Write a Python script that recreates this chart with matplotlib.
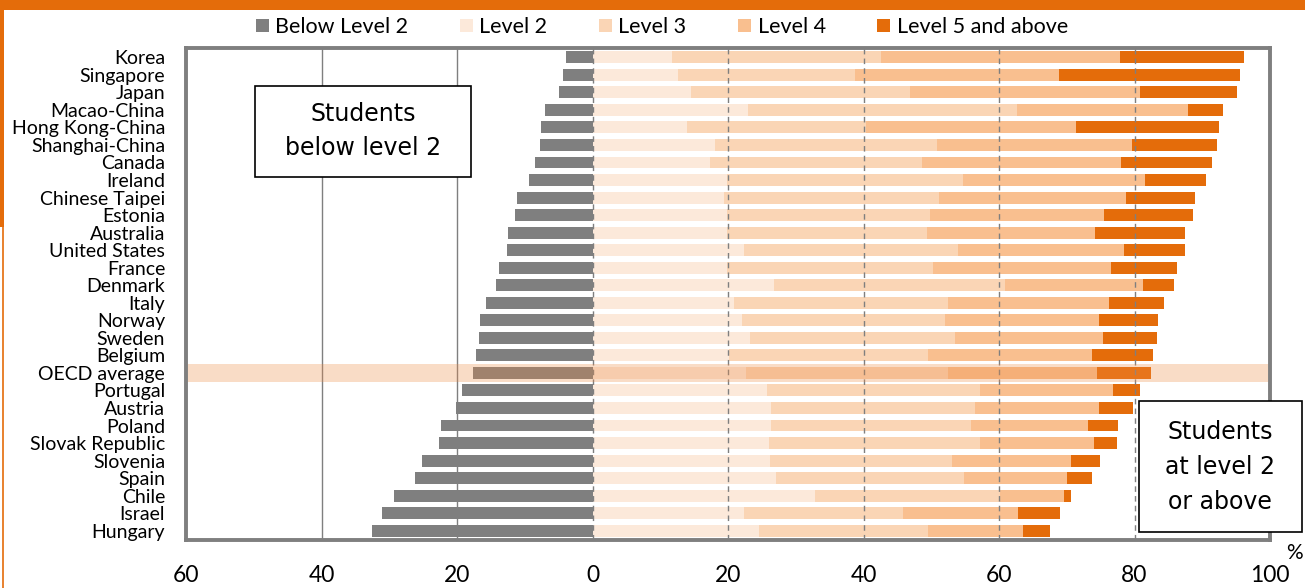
import numpy as np
import matplotlib.pyplot as plt
from matplotlib.patches import Patch, Rectangle
from matplotlib.lines import Line2D

plt.rcParams['font.family'] = ['Lato', 'DejaVu Sans']

# share of students (%) by proficiency level, mathematics
countries = ["Korea", "Singapore", "Japan", "Macao-China", "Hong Kong-China",
             "Shanghai-China", "Canada", "Ireland", "Chinese Taipei", "Estonia",
             "Australia", "United States", "France", "Denmark", "Italy", "Norway",
             "Sweden", "Belgium", "OECD average", "Portugal", "Austria", "Poland",
             "Slovak Republic", "Slovenia", "Spain", "Chile", "Israel", "Hungary"]
below_2 = [3.9, 4.4, 4.9, 7.0, 7.6, 7.8, 8.5, 9.4, 11.1, 11.4, 12.5, 12.6, 13.8, 14.2,
           15.7, 16.6, 16.7, 17.2, 17.6, 19.2, 20.2, 22.4, 22.6, 25.1, 26.2, 29.3, 31.0, 32.5]
level_2 = [11.8, 12.6, 14.5, 22.9, 13.9, 18.1, 17.3, 19.9, 19.4, 19.8, 19.9, 22.4, 19.8, 26.8,
           20.9, 22.1, 23.3, 20.2, 22.6, 25.7, 26.3, 26.3, 26.0, 26.2, 27.1, 32.9, 22.4, 24.6]
level_3 = [30.8, 26.1, 32.3, 39.7, 26.4, 32.7, 31.3, 34.8, 31.7, 30.0, 29.4, 31.5, 30.5, 34.1,
           31.5, 29.9, 30.2, 29.3, 29.9, 31.5, 30.1, 29.5, 31.2, 26.9, 27.8, 27.2, 23.5, 24.9]
level_4 = [35.2, 30.2, 34.0, 25.3, 31.1, 28.9, 29.4, 26.9, 27.6, 25.7, 24.9, 24.5, 26.3, 20.4,
           23.8, 22.8, 21.8, 24.3, 22.0, 19.6, 18.3, 17.3, 16.8, 17.6, 15.2, 9.5, 16.9, 14.0]
level_5 = [18.3, 26.7, 14.3, 5.1, 21.0, 12.5, 13.5, 9.0, 10.2, 13.1, 13.3, 9.0, 9.6, 4.5,
           8.1, 8.6, 8.0, 9.0, 7.9, 4.0, 5.1, 4.5, 3.4, 4.2, 3.7, 1.1, 6.2, 4.0]

level_names = ["Below Level 2", "Level 2", "Level 3", "Level 4", "Level 5 and above"]
level_colors = ["#7F7F7F", "#FCE9DA", "#FAD5B5", "#F9BF8F", "#E46C0A"]
xticks = [-60, -40, -20, 0, 20, 40, 60, 80, 100]

W, H = 1305, 588
fig = plt.figure(figsize=(W / 100, H / 100), dpi=100)
ax = fig.add_axes([186 / W, 1 - 540 / H, (1270 - 186) / W, (540 - 48) / H])

y = np.arange(len(countries))
bar_h = 0.68
ax.barh(y, -np.array(below_2), height=bar_h, color=level_colors[0], zorder=2)
left = np.zeros(len(countries))
for vals, col in zip([level_2, level_3, level_4, level_5], level_colors[1:]):
    ax.barh(y, vals, left=left, height=bar_h, color=col, zorder=2)
    left += np.array(vals)

# grid: solid on the left, dashed on the right
for gx in [-40, -20]:
    ax.axvline(gx, color="#7F7F7F", lw=1.0, zorder=3)
for gx in [0, 20, 40, 60, 80]:
    ax.axvline(gx, color="#7F7F7F", lw=1.0, ls=(0, (4, 3)), zorder=3)

# highlight the OECD average row
oecd = countries.index("OECD average")
ax.axhspan(oecd - 0.53, oecd + 0.53, color="#EE8B45", alpha=0.3, lw=0, zorder=4)

ax.set_xlim(-60, 100)
ax.set_ylim(len(countries) - 0.47, -0.53)
ax.set_yticks(y)
ax.set_yticklabels(countries, fontsize=14)
ax.set_xticks(xticks)
ax.set_xticklabels([str(abs(t)) for t in xticks], fontsize=16.5)
ax.tick_params(axis="both", length=0)
ax.tick_params(axis="y", pad=15)
ax.tick_params(axis="x", pad=18)
for sp in ax.spines.values():
    sp.set_color("#7F7F7F")
    sp.set_linewidth(2.8)
    sp.set_zorder(5)

fig.text(1294 / W, 1 - 553 / H, "%", fontsize=15, ha="center", va="center")

# text boxes
box_font = ["DejaVu Sans"]
fig.add_artist(Rectangle((255 / W, 1 - 177 / H), 216 / W, 91 / H, transform=fig.transFigure,
                         facecolor="white", edgecolor="black", lw=1.2, zorder=6))
fig.text(363 / W, 1 - 131 / H, "Students\nbelow level 2", fontsize=17, family=box_font,
         ha="center", va="center", linespacing=1.55, zorder=7)
fig.add_artist(Rectangle((1139 / W, 1 - 532 / H), 163 / W, 131 / H, transform=fig.transFigure,
                         facecolor="white", edgecolor="black", lw=1.2, zorder=6))
fig.text(1220 / W, 1 - 467 / H, "Students\nat level 2\nor above", fontsize=17, family=box_font,
         ha="center", va="center", linespacing=1.6, zorder=7)

handles = [Patch(facecolor=c, edgecolor="none") for c in level_colors]
fig.legend(handles, level_names, loc="center", bbox_to_anchor=(662 / W, 1 - 27 / H),
           ncol=5, frameon=False, fontsize=15.5, handlelength=0.6, handleheight=0.6,
           handletextpad=0.3, columnspacing=2.4)

# orange page frame
orange = "#E46C0A"
fig.add_artist(Rectangle((0, 1 - 10 / H), 1, 10 / H, transform=fig.transFigure,
                         facecolor=orange, edgecolor="none"))
fig.add_artist(Rectangle((0, 1 - 227 / H), 4 / W, 227 / H, transform=fig.transFigure,
                         facecolor=orange, edgecolor="none"))
fig.add_artist(Line2D([2.5 / W, 2.5 / W], [0, 1 - 227 / H], transform=fig.transFigure,
                      color=orange, lw=1.2))

fig.savefig("out.png", dpi=100)
